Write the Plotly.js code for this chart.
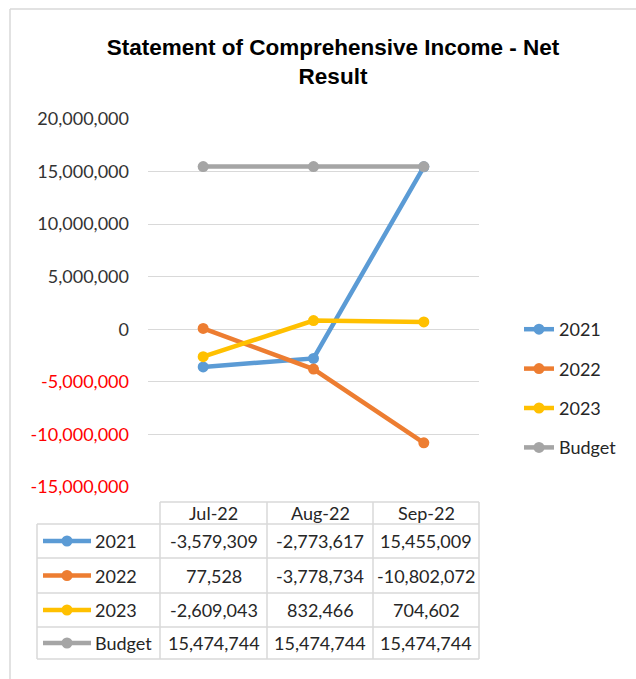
<!DOCTYPE html>
<html>
<head>
<meta charset="utf-8">
<script src="https://cdn.plot.ly/plotly-3.0.1.min.js"></script>
<style>
  html, body { margin: 0; padding: 0; background: #ffffff; }
  #chart { width: 636px; height: 679px; }
</style>
</head>
<body>
<div id="chart"></div>
<script>
// ---------- DATA ----------
const categories = ['Jul-22', 'Aug-22', 'Sep-22'];
const seriesNames = ['2021', '2022', '2023', 'Budget'];
const values2021 = [-3579309, -2773617, 15455009];
const values2022 = [77528, -3778734, -10802072];
const values2023 = [-2609043, 832466, 704602];
const valuesBudget = [15474744, 15474744, 15474744];
const yTickVals = [-15000000, -10000000, -5000000, 0, 5000000, 10000000, 15000000, 20000000];
const seriesColors = ['#5b9bd5', '#ed7d31', '#ffc000', '#a5a5a5'];

// ---------- HELPERS ----------
const allSeries = [values2021, values2022, values2023, valuesBudget];
function fmt(n) {
  const s = Math.abs(Math.round(n)).toString().replace(/\B(?=(\d{3})+(?!\d))/g, ',');
  return (n < 0 ? '-' : '') + s;
}
// plot area in pixels (for converting table layout into paper coords)
const W = 636, H = 679;
const PL = 148, PR = 479, PT = 119, PB = 487;
const X = px => (px - PL) / (PR - PL);
const Y = py => (PB - py) / (PB - PT);

const FONT = 'Lato, "Open Sans", "Liberation Sans", sans-serif';
const TXT = '#262626';
const GRID = '#d9d9d9';

// ---------- TRACES ----------
const traces = seriesNames.map((name, i) => ({
  type: 'scatter',
  mode: 'lines+markers',
  name: name,
  x: categories,
  y: allSeries[i],
  legendgroup: 'g' + i,
  line: { color: seriesColors[i], width: 4.5 },
  marker: { color: seriesColors[i], size: 11 },
  cliponaxis: false
}));

// ---------- DATA TABLE (shapes + annotations) ----------
const colEdges = [37, 160, 267, 373, 479];
const rowEdges = [502, 524, 558, 593, 627, 659];
const shapes = [];
const annotations = [];
const lineStyle = { color: GRID, width: 1.5 };

// outer chart border
shapes.push({ type: 'line', xref: 'paper', yref: 'paper', x0: X(10), x1: X(640), y0: Y(9), y1: Y(9), line: { color: '#d9d9d9', width: 1.5 } });
shapes.push({ type: 'line', xref: 'paper', yref: 'paper', x0: X(10), x1: X(10), y0: Y(9), y1: Y(685), line: { color: '#d9d9d9', width: 1.5 } });

// header top border
shapes.push({ type: 'line', xref: 'paper', yref: 'paper', x0: X(colEdges[1]), x1: X(colEdges[4]), y0: Y(rowEdges[0]), y1: Y(rowEdges[0]), line: lineStyle });
// horizontal row borders
for (let r = 1; r < rowEdges.length; r++) {
  shapes.push({ type: 'line', xref: 'paper', yref: 'paper', x0: X(colEdges[0]), x1: X(colEdges[4]), y0: Y(rowEdges[r]), y1: Y(rowEdges[r]), line: lineStyle });
}
// vertical borders
shapes.push({ type: 'line', xref: 'paper', yref: 'paper', x0: X(colEdges[0]), x1: X(colEdges[0]), y0: Y(rowEdges[1]), y1: Y(rowEdges[5]), line: lineStyle });
for (let c = 1; c < colEdges.length; c++) {
  shapes.push({ type: 'line', xref: 'paper', yref: 'paper', x0: X(colEdges[c]), x1: X(colEdges[c]), y0: Y(rowEdges[0]), y1: Y(rowEdges[5]), line: lineStyle });
}
// header labels
categories.forEach((cat, c) => {
  annotations.push({
    xref: 'paper', yref: 'paper', x: X((colEdges[c + 1] + colEdges[c + 2]) / 2), y: Y((rowEdges[0] + rowEdges[1]) / 2),
    text: cat, showarrow: false, xanchor: 'center', yanchor: 'middle',
    font: { family: FONT, size: 18, color: TXT }
  });
});
// rows
seriesNames.forEach((name, r) => {
  const cy = (rowEdges[r + 1] + rowEdges[r + 2]) / 2;
  // legend key line
  shapes.push({ type: 'line', xref: 'paper', yref: 'paper', x0: X(43), x1: X(91), y0: Y(cy), y1: Y(cy), line: { color: seriesColors[r], width: 4.5 } });
  shapes.push({ type: 'circle', xref: 'paper', yref: 'paper', x0: X(67 - 5.5), x1: X(67 + 5.5), y0: Y(cy - 5.5), y1: Y(cy + 5.5), fillcolor: seriesColors[r], line: { width: 0 } });
  annotations.push({
    xref: 'paper', yref: 'paper', x: X(93), y: Y(cy),
    text: name, showarrow: false, xanchor: 'left', yanchor: 'middle',
    font: { family: FONT, size: 18, color: TXT }
  });
  allSeries[r].forEach((v, c) => {
    annotations.push({
      xref: 'paper', yref: 'paper', x: X((colEdges[c + 1] + colEdges[c + 2]) / 2), y: Y(cy),
      text: fmt(v), showarrow: false, xanchor: 'center', yanchor: 'middle',
      font: { family: FONT, size: 18, color: TXT }
    });
  });
});

// ---------- LAYOUT ----------
const layout = {
  width: W, height: H,
  margin: { l: PL, r: W - PR, t: PT, b: H - PB, pad: 0 },
  paper_bgcolor: '#ffffff',
  plot_bgcolor: '#ffffff',
  title: {
    text: 'Statement of Comprehensive Income - Net<br>Result',
    font: { family: '"Liberation Sans", Arial, sans-serif', size: 22.5, color: '#000000', weight: 'bold' },
    x: 333 / W, xref: 'container', xanchor: 'center',
    y: 1 - 55 / H, yref: 'container', yanchor: 'top'
  },
  xaxis: {
    type: 'category',
    range: [-0.5, 2.5],
    showgrid: false, zeroline: false, showline: false,
    showticklabels: false, ticks: ''
  },
  yaxis: {
    range: [-15000000, 20000000],
    tickvals: yTickVals,
    ticktext: yTickVals.map(v => v < 0 ? '<span style="color:#ff0000">' + fmt(v) + '</span>' : fmt(v)),
    tickfont: { family: FONT, size: 18, color: '#333333' },
    showgrid: true, gridcolor: GRID, gridwidth: 1,
    zeroline: true, zerolinecolor: GRID, zerolinewidth: 1,
    showline: false, ticks: '',
    ticklabelstandoff: 18
  },
  showlegend: true,
  legend: {
    x: X(519), xanchor: 'left',
    y: Y(311), yanchor: 'top',
    font: { family: FONT, size: 18, color: TXT },
    bgcolor: 'rgba(0,0,0,0)',
    traceorder: 'grouped',
    tracegroupgap: 13,
    itemwidth: 30
  },
  shapes: shapes,
  annotations: annotations
};

Plotly.newPlot('chart', traces, layout, { staticPlot: true, displayModeBar: false });
</script>
</body>
</html>
